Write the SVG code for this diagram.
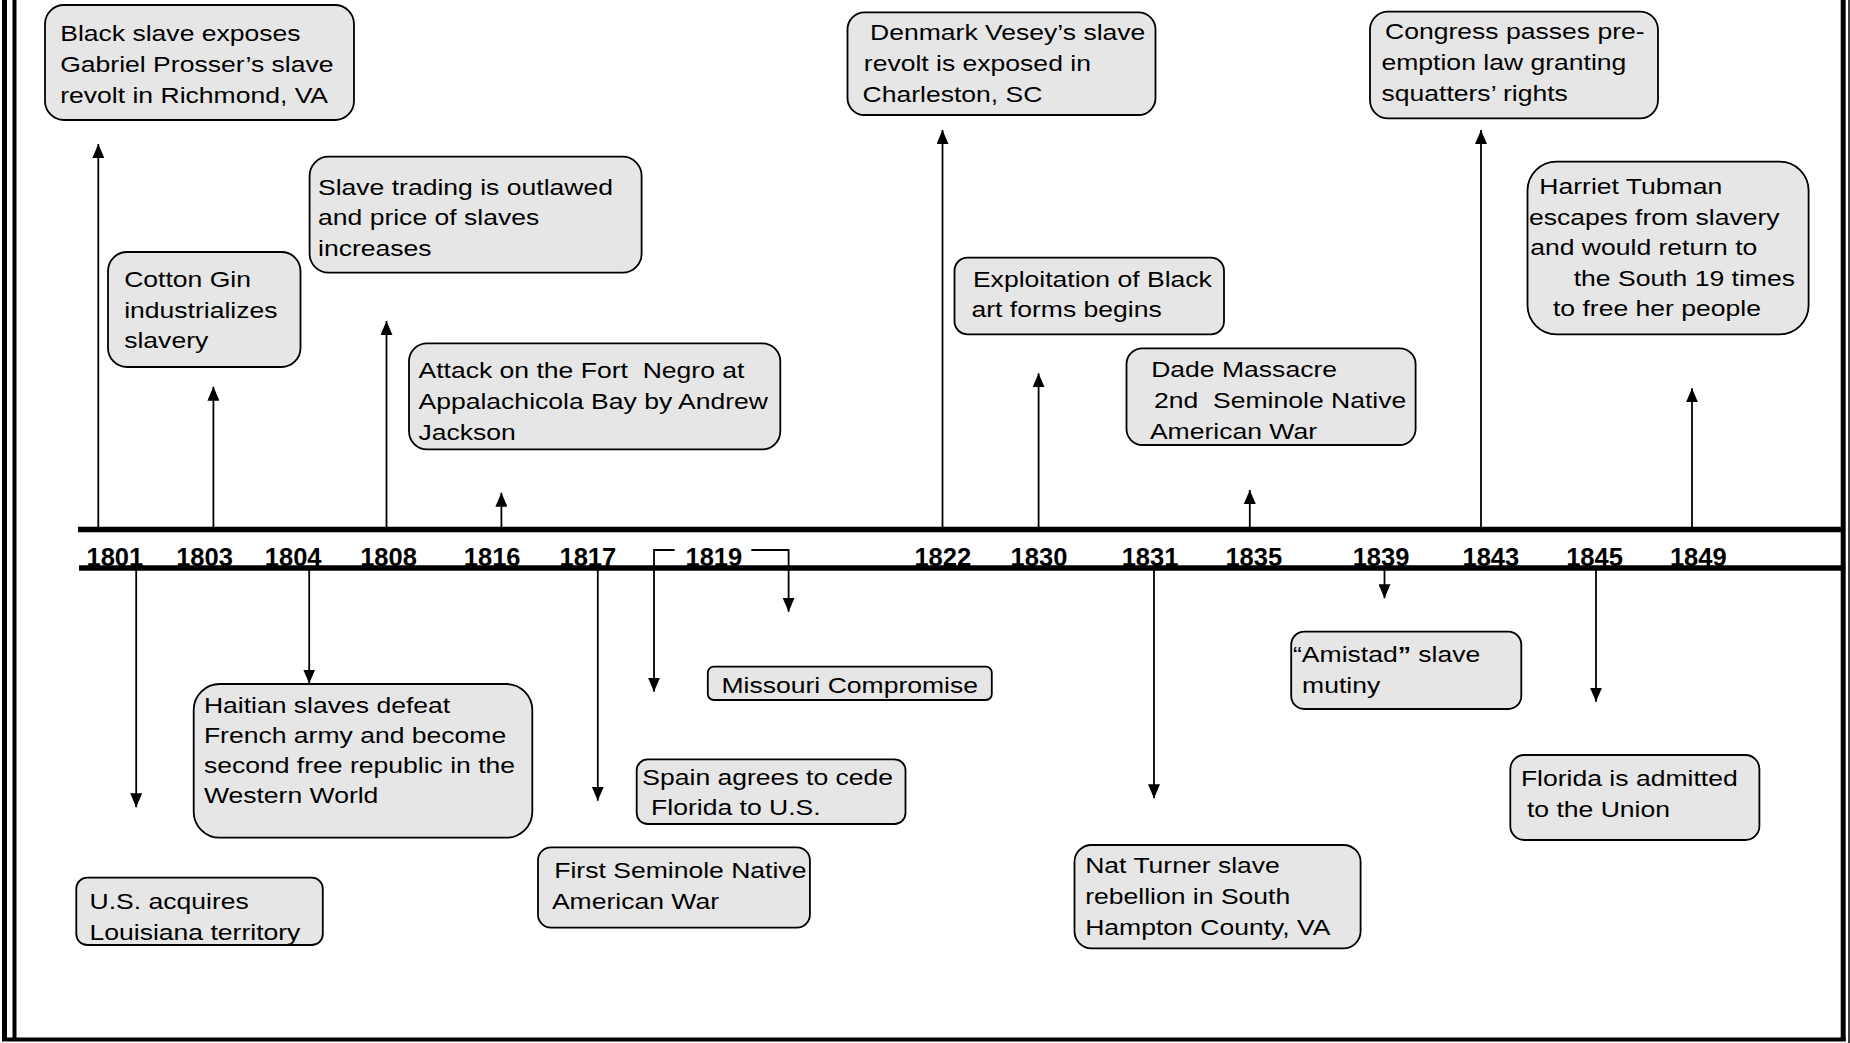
<svg xmlns="http://www.w3.org/2000/svg" width="1850" height="1043" viewBox="0 0 1850 1043">
  <defs>
    <style>
      .box { fill: #e6e6e6; stroke: #000; stroke-width: 1.8; }
      .t { font-family: "Liberation Sans", Arial, sans-serif; font-size: 22.4px; fill: #000; white-space: pre; }
      .yr { font-family: "Liberation Sans", Arial, sans-serif; font-size: 25.5px; font-weight: bold; fill: #000; }
      .axis { stroke: #000; stroke-width: 5.5; fill: none; }
      .frame { stroke: #000; fill: none; }
      .link { stroke: #000; stroke-width: 1.8; fill: none; marker-end: url(#head); }
    </style>
    <marker id="head" markerUnits="userSpaceOnUse" viewBox="0 0 14 12" markerWidth="14" markerHeight="12" refX="14" refY="6" orient="auto">
      <path d="M0,0 L14,6 L0,12 z" fill="#000"/>
    </marker>
  </defs>

  <rect width="1850" height="1043" fill="#fff"/>

  <!-- page frame -->
  <g id="frame">
    <line class="frame" x1="4.5" y1="0" x2="4.5" y2="1041" stroke-width="5"/>
    <line class="frame" x1="14.5" y1="0" x2="14.5" y2="1038" stroke-width="4"/>
    <line class="frame" x1="1843.2" y1="0" x2="1843.2" y2="1041" stroke-width="5"/>
    <line class="frame" x1="1849" y1="0" x2="1849" y2="1043" stroke-width="1.5"/>
    <line class="frame" x1="2" y1="1039.5" x2="1845.7" y2="1039.5" stroke-width="3.8"/>
  </g>

  <!-- timeline axis -->
  <g id="axis">
    <line class="axis" x1="78" y1="529.5" x2="1843" y2="529.5"/>
    <line class="axis" x1="79" y1="568" x2="1843" y2="568"/>
  </g>

  <!-- year labels -->
  <g id="years">
    <text class="yr" x="86.5" y="565.5">1801</text>
    <text class="yr" x="176.2" y="565.5">1803</text>
    <text class="yr" x="264.8" y="565.5">1804</text>
    <text class="yr" x="360.2" y="565.5">1808</text>
    <text class="yr" x="463.8" y="565.5">1816</text>
    <text class="yr" x="559.5" y="565.5">1817</text>
    <text class="yr" x="685.5" y="565.5">1819</text>
    <text class="yr" x="914.4" y="565.5">1822</text>
    <text class="yr" x="1010.6" y="565.5">1830</text>
    <text class="yr" x="1121.7" y="565.5">1831</text>
    <text class="yr" x="1225.4" y="565.5">1835</text>
    <text class="yr" x="1352.7" y="565.5">1839</text>
    <text class="yr" x="1462.5" y="565.5">1843</text>
    <text class="yr" x="1566.2" y="565.5">1845</text>
    <text class="yr" x="1669.9" y="565.5">1849</text>
  </g>

  <!-- connectors -->
  <g id="connectors">
    <!-- above the axis -->
    <line class="link" x1="98.3" y1="527" x2="98.3" y2="144"/>
    <line class="link" x1="213.4" y1="527" x2="213.4" y2="386.7"/>
    <line class="link" x1="386.5" y1="527" x2="386.5" y2="321"/>
    <line class="link" x1="501.4" y1="527" x2="501.4" y2="492.7"/>
    <line class="link" x1="942.5" y1="527" x2="942.5" y2="130"/>
    <line class="link" x1="1038.6" y1="527" x2="1038.6" y2="373.3"/>
    <line class="link" x1="1249.8" y1="527" x2="1249.8" y2="490"/>
    <line class="link" x1="1481" y1="527" x2="1481" y2="130"/>
    <line class="link" x1="1692" y1="527" x2="1692" y2="388.3"/>
    <!-- below the axis -->
    <line class="link" x1="136.2" y1="570" x2="136.2" y2="807.3"/>
    <line class="link" x1="309.2" y1="570" x2="309.2" y2="683.5"/>
    <line class="link" x1="597.8" y1="570" x2="597.8" y2="800.7"/>
    <path class="link" d="M674.6,550 H654 V691.7"/>
    <path class="link" d="M751.3,550 H788.6 V611.7"/>
    <line class="link" x1="1154" y1="570" x2="1154" y2="798.3"/>
    <line class="link" x1="1384.5" y1="570" x2="1384.5" y2="598.3"/>
    <line class="link" x1="1596" y1="570" x2="1596" y2="701.7"/>
  </g>

  <!-- events above the axis -->
  <g id="ev-1801-prosser">
    <rect class="box" x="45" y="5" width="309" height="115" rx="19"/>
    <text class="t" transform="translate(60.2 0) scale(1.185 1)"><tspan x="0" y="41">Black slave exposes</tspan><tspan x="0" y="72">Gabriel Prosser’s slave</tspan><tspan x="0" y="103">revolt in Richmond, VA</tspan></text>
  </g>
  <g id="ev-1803-cotton-gin">
    <rect class="box" x="108" y="252" width="192.5" height="115" rx="19"/>
    <text class="t" transform="translate(124.2 0) scale(1.185 1)"><tspan x="0" y="287.5">Cotton Gin</tspan><tspan x="0" y="318">industrializes</tspan><tspan x="0" y="348.5">slavery</tspan></text>
  </g>
  <g id="ev-1808-slave-trade">
    <rect class="box" x="309.6" y="156.7" width="332" height="116" rx="19"/>
    <text class="t" transform="translate(318 0) scale(1.185 1)"><tspan x="0" y="195">Slave trading is outlawed</tspan><tspan x="0" y="225.5">and price of slaves</tspan><tspan x="0" y="256">increases</tspan></text>
  </g>
  <g id="ev-1816-fort-negro">
    <rect class="box" x="409" y="343.3" width="371.3" height="106" rx="18"/>
    <text class="t" transform="translate(418.5 0) scale(1.185 1)"><tspan x="0" y="378">Attack on the Fort  Negro at</tspan><tspan x="0" y="409">Appalachicola Bay by Andrew</tspan><tspan x="0" y="440">Jackson</tspan></text>
  </g>
  <g id="ev-1822-vesey">
    <rect class="box" x="847.5" y="12.3" width="308" height="102.7" rx="17"/>
    <text class="t" transform="translate(862.5 0) scale(1.185 1)"><tspan x="6.4" y="40">Denmark Vesey’s slave</tspan><tspan x="1.1" y="71">revolt is exposed in</tspan><tspan x="0" y="102">Charleston, SC</tspan></text>
  </g>
  <g id="ev-1830-art-forms">
    <rect class="box" x="954.5" y="257.7" width="269.5" height="76.6" rx="13"/>
    <text class="t" transform="translate(971.5 0) scale(1.185 1)"><tspan x="1.2" y="287">Exploitation of Black</tspan><tspan x="0" y="317">art forms begins</tspan></text>
  </g>
  <g id="ev-1835-dade">
    <rect class="box" x="1126.5" y="348.3" width="289.1" height="96.7" rx="16"/>
    <text class="t" transform="translate(1149.9 0) scale(1.185 1)"><tspan x="1.1" y="377">Dade Massacre</tspan><tspan x="3.5" y="408">2nd  Seminole Native</tspan><tspan x="0" y="439">American War</tspan></text>
  </g>
  <g id="ev-1843-preemption">
    <rect class="box" x="1370" y="11.7" width="288" height="106.6" rx="18"/>
    <text class="t" transform="translate(1381.5 0) scale(1.185 1)"><tspan x="3" y="39">Congress passes pre-</tspan><tspan x="0" y="70">emption law granting</tspan><tspan x="0" y="101">squatters’ rights</tspan></text>
  </g>
  <g id="ev-1849-tubman">
    <rect class="box" x="1527.5" y="161.7" width="281.1" height="172.6" rx="29"/>
    <text class="t" transform="translate(1528.9 0) scale(1.185 1)"><tspan x="8.8" y="194.5">Harriet Tubman</tspan><tspan x="0" y="225">escapes from slavery</tspan><tspan x="1.1" y="255.5">and would return to</tspan><tspan x="37.8" y="286">the South 19 times</tspan><tspan x="20.3" y="316.5">to free her people</tspan></text>
  </g>

  <!-- events below the axis -->
  <g id="ev-1801-louisiana">
    <rect class="box" x="76.3" y="877.7" width="246.5" height="67.3" rx="11"/>
    <text class="t" transform="translate(89.5 0) scale(1.185 1)"><tspan x="0" y="909.3">U.S. acquires</tspan><tspan x="0" y="940">Louisiana territory</tspan></text>
  </g>
  <g id="ev-1804-haiti">
    <rect class="box" x="193.7" y="684" width="338.6" height="153.7" rx="26"/>
    <text class="t" transform="translate(203.9 0) scale(1.185 1)"><tspan x="0" y="712.7">Haitian slaves defeat</tspan><tspan x="0" y="743">French army and become</tspan><tspan x="0" y="773.3">second free republic in the</tspan><tspan x="0" y="803.5">Western World</tspan></text>
  </g>
  <g id="ev-1817-seminole">
    <rect class="box" x="538" y="847.3" width="271.9" height="80.4" rx="13"/>
    <text class="t" transform="translate(551.9 0) scale(1.185 1)"><tspan x="2" y="877.7">First Seminole Native</tspan><tspan x="0" y="909.3">American War</tspan></text>
  </g>
  <g id="ev-1819-missouri">
    <rect class="box" x="707.8" y="666.7" width="284" height="33.3" rx="6"/>
    <text class="t" transform="translate(721.5 0) scale(1.185 1)"><tspan x="0" y="693.3">Missouri Compromise</tspan></text>
  </g>
  <g id="ev-1819-florida-cession">
    <rect class="box" x="636.7" y="759.3" width="268.8" height="64.7" rx="11"/>
    <text class="t" transform="translate(642.3 0) scale(1.185 1)"><tspan x="0" y="785">Spain agrees to cede</tspan><tspan x="7.4" y="815">Florida to U.S.</tspan></text>
  </g>
  <g id="ev-1831-turner">
    <rect class="box" x="1074.5" y="845" width="286.1" height="103.3" rx="17"/>
    <text class="t" transform="translate(1085.2 0) scale(1.185 1)"><tspan x="0" y="873.3">Nat Turner slave</tspan><tspan x="0" y="904">rebellion in South</tspan><tspan x="0" y="935">Hampton County, VA</tspan></text>
  </g>
  <g id="ev-1839-amistad">
    <rect class="box" x="1291.2" y="631.7" width="230.1" height="77.3" rx="13"/>
    <text class="t" transform="translate(1293 0) scale(1.185 1)"><tspan x="0" y="661.7">“Amistad<tspan font-weight="bold">”</tspan> slave</tspan><tspan x="7.7" y="693.3">mutiny</tspan></text>
  </g>
  <g id="ev-1845-florida-statehood">
    <rect class="box" x="1510.3" y="755" width="249.1" height="85" rx="14"/>
    <text class="t" transform="translate(1520.9 0) scale(1.185 1)"><tspan x="0" y="785.7">Florida is admitted</tspan><tspan x="5.1" y="816.7">to the Union</tspan></text>
  </g>
</svg>
